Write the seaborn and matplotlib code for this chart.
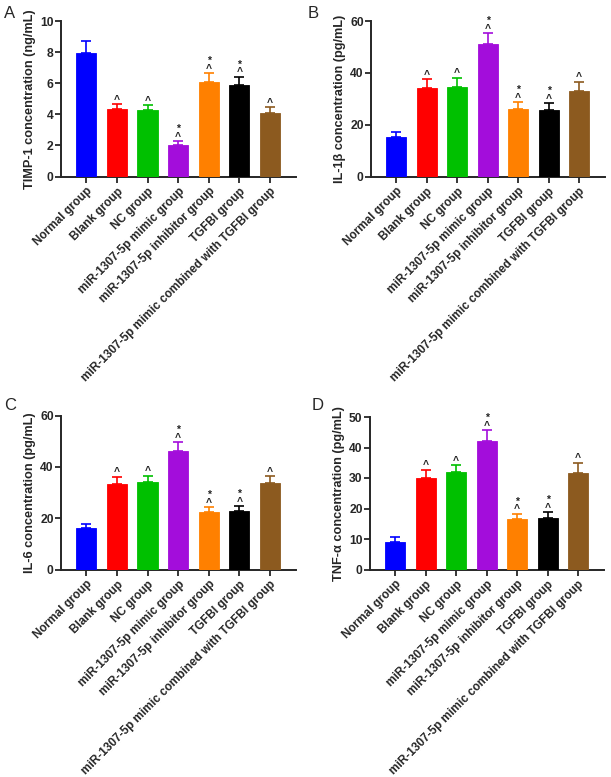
import matplotlib
matplotlib.use("Agg")
import matplotlib.pyplot as plt
import seaborn as sns
import numpy as np
import pandas as pd

sns.set_style("ticks")
plt.rcParams['font.family'] = ['Liberation Sans', 'DejaVu Sans']

groups = ["Normal group", "Blank group", "NC group", "miR-1307-5p mimic group",
          "miR-1307-5p inhibitor group", "TGFBI group",
          "miR-1307-5p mimic combined with TGFBI group"]
colors = ["#0000FF", "#FF0000", "#00C000", "#A30DDB", "#FF8000", "#000000", "#8C5A1F"]

timp1_mean = [7.95, 4.32, 4.27, 2.02, 6.10, 5.90, 4.10]
timp1_top = [8.70, 4.65, 4.58, 2.27, 6.65, 6.42, 4.45]
il1b_mean = [15.2, 34.3, 34.6, 51.2, 26.0, 25.7, 33.0]
il1b_top = [17.0, 37.5, 38.0, 55.3, 28.7, 28.2, 36.5]
il6_mean = [16.0, 33.5, 34.0, 46.3, 22.3, 22.8, 33.6]
il6_top = [17.6, 36.2, 36.5, 49.6, 24.3, 24.6, 36.3]
tnfa_mean = [9.0, 30.0, 31.9, 42.0, 16.7, 17.0, 31.7]
tnfa_top = [10.6, 32.6, 34.2, 45.6, 18.3, 18.7, 35.0]

# significance marks: '^' vs normal, '*' vs NC
marks_A = ["", "^", "^", "*\n^", "*\n^", "*\n^", "^"]
marks_B = ["", "^", "^", "*\n^", "*\n^", "*\n^", "^"]
marks_C = ["", "^", "^", "*\n^", "*\n^", "*\n^", "^"]
marks_D = ["", "^", "^", "*\n^", "*\n^", "*\n^", "^"]

panels = [
    ("A", "TIMP-1 concentration (ng/mL)", timp1_mean, timp1_top, marks_A, 10, 2,
     [61/611, 1-176.5/777, 235/611, 155.5/777]),
    ("B", "IL-1β concentration (pg/mL)", il1b_mean, il1b_top, marks_B, 60, 20,
     [371/611, 1-176.5/777, 234/611, 155.5/777]),
    ("C", "IL-6 concentration (pg/mL)", il6_mean, il6_top, marks_C, 60, 20,
     [61/611, 1-569.5/777, 235/611, 153.8/777]),
    ("D", "TNF-α concentration (pg/mL)", tnfa_mean, tnfa_top, marks_D, 50, 10,
     [370/611, 1-569.5/777, 234/611, 152.5/777]),
]
letter_pos = {"A": (4, 13), "B": (308, 13), "C": (4, 406), "D": (312, 406)}

fig = plt.figure(figsize=(6.11, 7.77), dpi=100)

for letter, ylabel, mean, top, marks, ymax, ystep, rect in panels:
    ax = fig.add_axes(rect)
    df = pd.DataFrame({"group": groups, "value": mean})
    sns.barplot(data=df, x="group", y="value", hue="group", palette=colors,
                legend=False, ax=ax, width=0.66, saturation=1, zorder=3)
    for p, c in zip(ax.patches, colors):
        p.set_edgecolor(c)
        p.set_linewidth(0.6)
    for i, (m, t, c) in enumerate(zip(mean, top, colors)):
        ax.errorbar(i, m, yerr=[[0], [t - m]], fmt="none", ecolor=c,
                    elinewidth=1.2, capsize=3.6, capthick=1.2, zorder=2)
        mk = marks[i]
        if mk:
            ax.annotate(mk, (i, t), xytext=(0, -0.3), textcoords="offset points",
                        ha="center", va="bottom", fontsize=7.5, fontweight="bold",
                        linespacing=0.7, color="#222222")
    ax.set_xlim(-0.83, 6.85)
    ax.set_ylim(0, ymax)
    ax.set_yticks(np.arange(0, ymax + 0.1, ystep))
    ax.set_xlabel("")
    ax.set_ylabel(ylabel, fontsize=9.2, fontweight="bold", labelpad=3)
    ax.set_xticks(range(len(groups)))
    ax.set_xticklabels(groups, rotation=45, ha="right", rotation_mode="anchor",
                       fontsize=8.5, fontweight="bold")
    for lab in ax.get_yticklabels():
        lab.set_fontweight("bold")
        lab.set_fontsize(8.7)
    ax.tick_params(axis="both", direction="out", length=4.3, width=1.3)
    ax.tick_params(axis="y", pad=1)
    ax.tick_params(axis="x", pad=2)
    for s in ["left", "bottom"]:
        ax.spines[s].set_linewidth(1.4)
    sns.despine(ax=ax)
    lx, ly = letter_pos[letter]
    fig.text(lx / 611, 1 - ly / 777, letter, fontsize=12, ha="left", va="center")

fig.savefig("out.png", dpi=100)
